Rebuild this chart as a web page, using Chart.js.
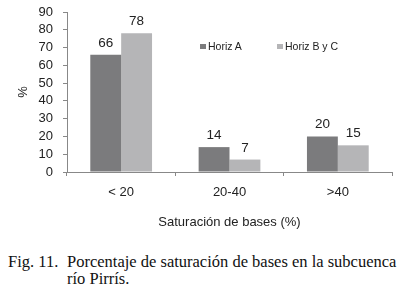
<!DOCTYPE html>
<html>
<head>
<meta charset="utf-8">
<script src="https://cdn.jsdelivr.net/npm/chart.js@4/dist/chart.umd.min.js"></script>
<style>
body{margin:0;background:#fff;width:401px;height:295px;overflow:hidden;position:relative}
#wrap{position:absolute;left:0;top:0;width:401px;height:240px}
.leg{position:absolute;top:40px;font:10.5px "Liberation Sans",Arial,sans-serif;line-height:12px;color:#222;white-space:nowrap}
.leg i{display:inline-block;width:6px;height:5px;margin-right:2px;vertical-align:1px}
#cap{position:absolute;left:8px;top:253px;font:16.5px "Liberation Serif","Times New Roman",serif;color:#111;line-height:17px;white-space:nowrap}
#cap span{display:inline-block;width:59px}
</style>
</head>
<body>
<div id="wrap"><canvas id="c"></canvas></div>
<div class="leg" style="left:200px"><i style="background:#7b7b7d"></i>Horiz A</div>
<div class="leg" style="left:277px"><i style="background:#b5b5b7"></i>Horiz B y C</div>
<div id="cap"><span>Fig. 11.</span>Porcentaje de saturación de bases en la subcuenca<br><span></span>río Pirrís.</div>
<script>
var categories = ['< 20', '20-40', '>40']
var horizA = [66, 14, 20]
var horizBC = [78, 7, 15]
var yTitle = '%'
var xTitle = 'Saturación de bases (%)'

var font = {family:'"Liberation Sans", Arial, sans-serif', size:13}

var valueLabels = {
    id:'valueLabels',
    afterDatasetsDraw(chart){
        var ctx = chart.ctx
        ctx.save()
        ctx.font = '13.5px "Liberation Sans", Arial, sans-serif'
        ctx.fillStyle = '#222'
        ctx.textAlign = 'center'
        ctx.textBaseline = 'alphabetic'
        chart.data.datasets.forEach(function(ds, i){
            chart.getDatasetMeta(i).data.forEach(function(bar, j){
                ctx.fillText(ds.data[j], bar.x, bar.y - 8)
            })
        })
        ctx.restore()
    }
}

var ctx = document.getElementById('c').getContext('2d')
var chart1 = new Chart(ctx, {
    type:'bar',
    plugins:[valueLabels],
    data:{
        labels:categories,
        datasets:[{
            label:'Horiz A',
            data:horizA,
            backgroundColor:'#7b7b7d'
        },{
            label:'Horiz B y C',
            data:horizBC,
            backgroundColor:'#b5b5b7'
        }]
    },
    options:{
        responsive:true,
        maintainAspectRatio:false,
        animation:false,
        layout:{padding:{top:12, right:9, left:0, bottom:0}},
        datasets:{bar:{barPercentage:1, categoryPercentage:0.57}},
        plugins:{
            legend:{display:false},
            tooltip:{enabled:false}
        },
        scales:{
            x:{
                afterFit:function(s){ s.height = 68 },
                grid:{drawOnChartArea:false, tickLength:4, color:'#888'},
                border:{color:'#888'},
                ticks:{font:font, color:'#222', padding:9},
                title:{display:true, text:xTitle, font:font, color:'#222', padding:{top:4, bottom:10}}
            },
            y:{
                min:0,
                max:90,
                afterFit:function(s){ s.width = 67; s.paddingTop = 0; s.paddingBottom = 0 },
                grid:{drawOnChartArea:false, tickLength:4, color:'#888'},
                border:{color:'#888'},
                ticks:{stepSize:10, autoSkip:false, font:font, color:'#222', padding:10},
                title:{display:true, text:yTitle, font:font, color:'#222', padding:{top:16, bottom:0}}
            }
        }
    }
})
</script>
</body>
</html>
